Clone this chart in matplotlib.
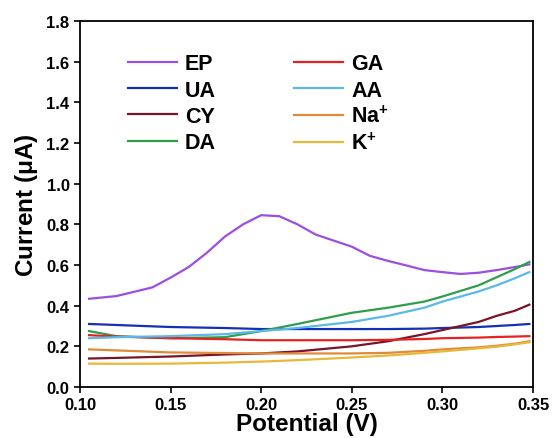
import matplotlib
matplotlib.use("Agg")
import matplotlib.pyplot as plt

plt.rcParams['font.family'] = ['Liberation Sans', 'DejaVu Sans']
plt.rcParams['font.weight'] = 'bold'
plt.rcParams['mathtext.fontset'] = 'custom'
plt.rcParams['mathtext.rm'] = 'Liberation Sans:bold'
plt.rcParams['mathtext.bf'] = 'Liberation Sans:bold'
plt.rcParams['mathtext.it'] = 'Liberation Sans:bold'

# potential (V) and current (uA)
x_ep = [0.105, 0.12, 0.14, 0.15, 0.16, 0.17, 0.18, 0.19, 0.20, 0.21, 0.22, 0.23, 0.24, 0.25, 0.26, 0.27, 0.28, 0.29, 0.30, 0.31, 0.32, 0.33, 0.34, 0.348]
ep = [0.434, 0.447, 0.49, 0.538, 0.59, 0.66, 0.74, 0.80, 0.845, 0.84, 0.80, 0.75, 0.72, 0.69, 0.645, 0.62, 0.598, 0.575, 0.565, 0.556, 0.562, 0.575, 0.59, 0.603]

x_b = [0.105, 0.12, 0.15, 0.18, 0.20, 0.22, 0.25, 0.27, 0.29, 0.30, 0.32, 0.33, 0.34, 0.348]
ua = [0.31, 0.305, 0.295, 0.29, 0.285, 0.285, 0.285, 0.285, 0.287, 0.29, 0.295, 0.30, 0.305, 0.31]
cy = [0.14, 0.143, 0.15, 0.16, 0.165, 0.175, 0.20, 0.225, 0.26, 0.28, 0.32, 0.35, 0.375, 0.405]
da = [0.275, 0.25, 0.24, 0.245, 0.275, 0.31, 0.365, 0.39, 0.42, 0.445, 0.50, 0.54, 0.58, 0.615]
ga = [0.255, 0.248, 0.24, 0.235, 0.23, 0.23, 0.23, 0.232, 0.236, 0.24, 0.243, 0.246, 0.248, 0.25]
aa = [0.24, 0.245, 0.25, 0.26, 0.275, 0.29, 0.32, 0.35, 0.39, 0.42, 0.47, 0.50, 0.535, 0.565]
na = [0.185, 0.18, 0.17, 0.167, 0.165, 0.165, 0.165, 0.168, 0.178, 0.185, 0.195, 0.203, 0.213, 0.225]
kp = [0.115, 0.114, 0.115, 0.12, 0.125, 0.132, 0.145, 0.155, 0.168, 0.175, 0.19, 0.198, 0.21, 0.22]

labels = ['EP', 'UA', 'CY', 'DA', 'GA', 'AA', r'Na$^{\mathbf{+}}$', r'K$^{\mathbf{+}}$']
colors = ['#9b4fe0', '#1530b8', '#7a1428', '#2f9e4a', '#e42222', '#5bb8e8', '#e08a3a', '#e8b83a']
series = [(x_ep, ep), (x_b, ua), (x_b, cy), (x_b, da), (x_b, ga), (x_b, aa), (x_b, na), (x_b, kp)]

fig = plt.figure(figsize=(5.52, 4.39), dpi=100)
ax = fig.add_axes([80/552, 1 - 388/439, 453/552, 366/439])

for (xx, yy), lab, c in zip(series, labels, colors):
    ax.plot(xx, yy, color=c, lw=1.6, label=lab)

ax.set_xlim(0.10, 0.35)
ax.set_ylim(0.0, 1.8)
ax.set_xticks([0.10, 0.15, 0.20, 0.25, 0.30, 0.35])
ax.set_yticks([0.0, 0.2, 0.4, 0.6, 0.8, 1.0, 1.2, 1.4, 1.6, 1.8])
ax.xaxis.set_major_formatter(matplotlib.ticker.FormatStrFormatter('%.2f'))
ax.yaxis.set_major_formatter(matplotlib.ticker.FormatStrFormatter('%.1f'))
ax.tick_params(direction='out', length=4.5, width=1.2, labelsize=12, pad=3)
for s in ax.spines.values():
    s.set_linewidth(1.3)

ax.set_xlabel('Potential (V)', fontsize=17.5, fontweight='bold', labelpad=0)
ax.set_ylabel(r'Current ($\mu$A)', fontsize=17.5, fontweight='bold', labelpad=5)

ax.legend(ncol=2, loc='upper left', bbox_to_anchor=(0.105, 0.912), frameon=False,
          borderpad=0, borderaxespad=0,
          prop={'size': 15.5, 'weight': 'bold'}, handlelength=2.3, handletextpad=0.37,
          columnspacing=3.6, labelspacing=0.25)

fig.savefig('out.png', dpi=100)
